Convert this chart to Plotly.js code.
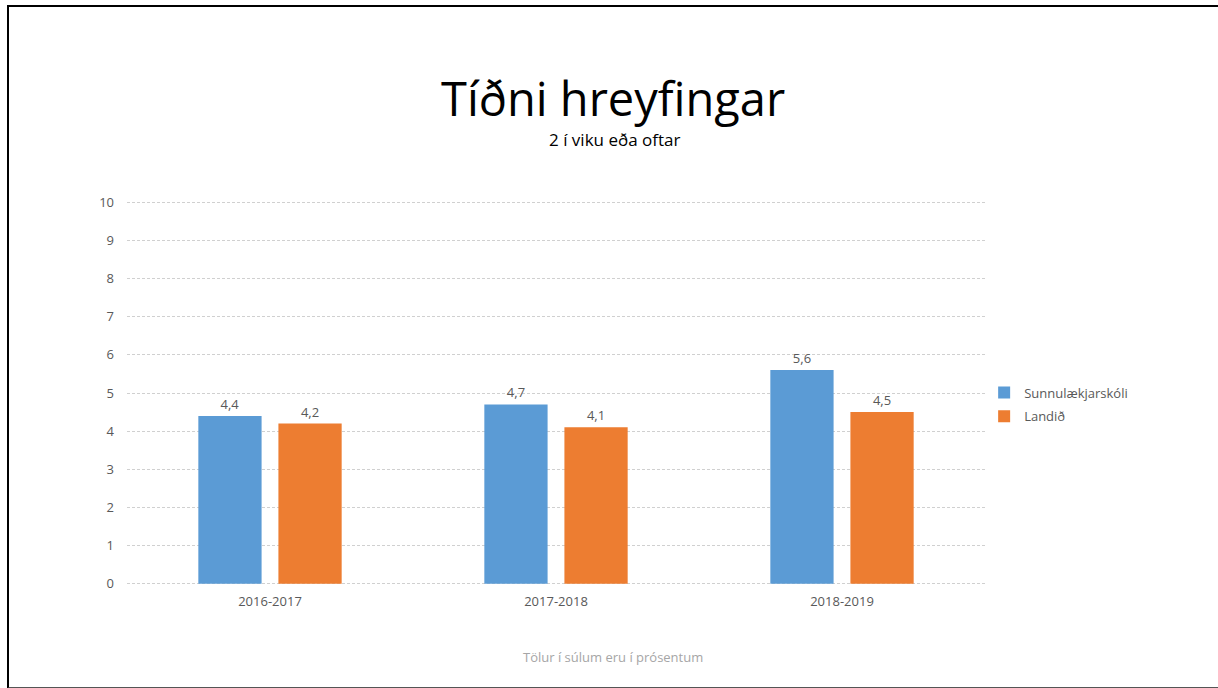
<!DOCTYPE html>
<html>
<head>
<meta charset="utf-8">
<script src="https://cdn.plot.ly/plotly-3.0.1.min.js"></script>
<style>
html,body{margin:0;padding:0;background:#fff;}
#chart{width:1218px;height:688px;position:absolute;left:0;top:0;}
#frame{position:absolute;left:7px;top:5px;width:1220px;height:680px;border-left:2px solid #000;border-top:2px solid #000;border-bottom:2px solid #555;pointer-events:none;}
</style>
</head>
<body>
<div id="chart"></div>
<div id="frame"></div>
<script>
const categories = ['2016-2017', '2017-2018', '2018-2019'];
const seriesNames = ['Sunnulækjarskóli', 'Landið'];
const sunnulaekjarskoli = [4.4, 4.7, 5.6];
const landid = [4.2, 4.1, 4.5];
const yTicks = [0,1,2,3,4,5,6,7,8,9,10];

const FONT = '"Open Sans", "Noto Sans", sans-serif';
const fmt = v => v.toFixed(1).replace('.', ',');

const traces = [
  {type:'bar', name:seriesNames[0], x:categories, y:sunnulaekjarskoli,
   marker:{color:'#5B9BD5'}, text:sunnulaekjarskoli.map(fmt), textposition:'outside',
   textfont:{family:FONT,size:13,color:'#595959'}, cliponaxis:false, legendgroup:'a', hoverinfo:'none'},
  {type:'bar', name:seriesNames[1], x:categories, y:landid,
   marker:{color:'#ED7D31'}, text:landid.map(fmt), textposition:'outside',
   textfont:{family:FONT,size:13,color:'#595959'}, cliponaxis:false, legendgroup:'b', hoverinfo:'none'}
];

const layout = {
  width:1218, height:688,
  margin:{l:127, r:233, t:201, b:103},
  paper_bgcolor:'#fff', plot_bgcolor:'#fff',
  font:{family:FONT, size:13, color:'#595959'},
  separators:',.',
  barmode:'group', bargap:0.44, bargroupgap:0.21,
  showlegend:true,
  legend:{x:0.999, xanchor:'left', y:0.47, yanchor:'middle', font:{family:FONT,size:13,color:'#595959'}, tracegroupgap:4, bgcolor:'rgba(0,0,0,0)'},
  xaxis:{type:'category', showgrid:false, zeroline:false, showline:false, ticks:'', ticklabelstandoff:7, tickfont:{family:FONT,size:13,color:'#595959'}},
  yaxis:{range:[-0.03,10.03], tickvals:yTicks, ticktext:yTicks.map(String), showgrid:true, gridcolor:'#d0d0d0', griddash:'3px,2px', gridwidth:1,
         zeroline:false, showline:false, ticks:'', ticklabelstandoff:12, tickfont:{family:FONT,size:13,color:'#595959'}},
  annotations:[
    {text:'Tíðni hreyfingar', xref:'paper', yref:'paper', x:(613-127)/858, y:(688-103-98)/384, xanchor:'center', yanchor:'middle', showarrow:false,
     font:{family:FONT, size:47, color:'#000'}},
    {text:'2 í viku eða oftar', xref:'paper', yref:'paper', x:(614-127)/858, y:(688-103-139)/384, xanchor:'center', yanchor:'middle', showarrow:false,
     font:{family:FONT, size:17, color:'#000'}},
    {text:'Tölur í súlum eru í prósentum', xref:'paper', yref:'paper', x:(613-127)/858, y:(688-103-657)/384, xanchor:'center', yanchor:'middle', showarrow:false,
     font:{family:FONT, size:13, color:'#a6a6a6'}}
  ]
};

Plotly.newPlot('chart', traces, layout, {displayModeBar:false, staticPlot:true});
</script>
</body>
</html>
